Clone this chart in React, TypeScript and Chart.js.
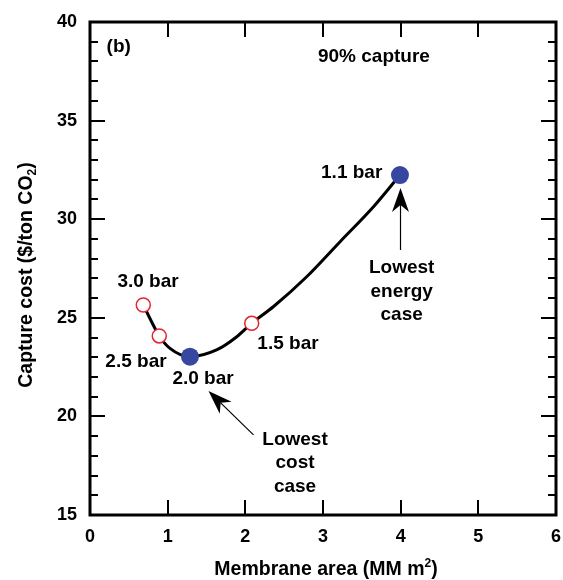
import React, { useEffect, useRef } from "react";
import { Chart, registerables } from "chart.js";

Chart.register(...registerables);

// Curve of capture cost vs membrane area
const curveX = [0.686, 0.892, 1.03, 1.287, 1.63, 1.89, 2.082, 2.36, 2.79, 3.22, 3.65, 3.991];
const curveY = [25.65, 24.08, 23.45, 23.03, 23.37, 24.04, 24.72, 25.56, 27.08, 28.86, 30.63, 32.24];

// Marked pressure cases
const pointLabels = ["3.0 bar", "2.5 bar", "2.0 bar", "1.5 bar", "1.1 bar"];
const pointX = [0.686, 0.892, 1.287, 2.082, 3.991];
const pointY = [25.65, 24.08, 23.03, 24.72, 32.24];
const pointFilled = [false, false, true, false, true];
const labelX = [0.747, 0.592, 1.455, 2.549, 3.369];
const labelY = [26.93, 22.88, 22.01, 23.79, 32.46];

// Axis ranges / ticks
const xMin = 0, xMax = 6, xStep = 1;
const yMin = 15, yMax = 40, yStep = 5, yMinorStep = 1;

// Annotations
const noteTexts = [["Lowest", "energy", "case"], ["Lowest", "cost", "case"]];
const noteX = [4.013, 2.64];
const noteY = [27.26, 18.55];
const arrowTail = [[3.998, 28.44], [2.105, 19.06]];
const arrowTip = [[3.998, 31.58], [1.526, 21.29]];
const panelLabel = "(b)";
const panelX = 0.37, panelY = 38.49;
const captureLabel = "90% capture";
const captureX = 3.656, captureY = 37.99;

const FONT = '"Liberation Sans", Arial, Helvetica, sans-serif';

function drawArrow(ctx: CanvasRenderingContext2D, x1: number, y1: number, x2: number, y2: number) {
  const ang = Math.atan2(y2 - y1, x2 - x1);
  const L = 24, W = 8.5, notch = 7;
  const cos = Math.cos(ang), sin = Math.sin(ang);
  const bx = x2 - cos * (L - notch), by = y2 - sin * (L - notch);
  ctx.save();
  ctx.strokeStyle = "#000";
  ctx.lineWidth = 1.2;
  ctx.beginPath();
  ctx.moveTo(x1, y1);
  ctx.lineTo(bx, by);
  ctx.stroke();
  ctx.fillStyle = "#000";
  ctx.beginPath();
  ctx.moveTo(x2, y2);
  ctx.lineTo(x2 - cos * L - sin * W, y2 - sin * L + cos * W);
  ctx.lineTo(bx, by);
  ctx.lineTo(x2 - cos * L + sin * W, y2 - sin * L - cos * W);
  ctx.closePath();
  ctx.fill();
  ctx.restore();
}

const decorPlugin = {
  id: "decor",
  afterDraw(chart: any) {
    const ctx: CanvasRenderingContext2D = chart.ctx;
    const xs = chart.scales.x;
    const ys = chart.scales.y;
    const { left, right, top, bottom } = chart.chartArea;
    ctx.save();
    // frame
    ctx.strokeStyle = "#000";
    ctx.lineWidth = 3;
    ctx.strokeRect(left, top, right - left, bottom - top);
    // y ticks (left and right, inward)
    ctx.lineWidth = 2;
    for (let v = yMin; v <= yMax + 1e-9; v += yMinorStep) {
      const py = Math.round(ys.getPixelForValue(v));
      const len = Math.abs(v % yStep) < 1e-9 ? 15 : 8;
      ctx.beginPath();
      ctx.moveTo(left, py);
      ctx.lineTo(left + len, py);
      ctx.moveTo(right, py);
      ctx.lineTo(right - len, py);
      ctx.stroke();
    }
    // x ticks (bottom and top, inward)
    for (let v = xMin; v <= xMax + 1e-9; v += xStep) {
      const px = Math.round(xs.getPixelForValue(v));
      ctx.beginPath();
      ctx.moveTo(px, bottom);
      ctx.lineTo(px, bottom - 15);
      ctx.moveTo(px, top);
      ctx.lineTo(px, top + 15);
      ctx.stroke();
    }
    ctx.fillStyle = "#000";
    // point labels
    ctx.font = `bold 19px ${FONT}`;
    ctx.textAlign = "center";
    ctx.textBaseline = "alphabetic";
    for (let i = 0; i < pointLabels.length; i++) {
      ctx.fillText(pointLabels[i], xs.getPixelForValue(labelX[i]), ys.getPixelForValue(labelY[i]) + 7);
    }
    // notes
    for (let i = 0; i < noteTexts.length; i++) {
      const nx = xs.getPixelForValue(noteX[i]);
      const ny = ys.getPixelForValue(noteY[i]);
      noteTexts[i].forEach((t, j) => ctx.fillText(t, nx, ny + j * 23.4));
      const [tx, ty] = arrowTail[i];
      const [hx, hy] = arrowTip[i];
      drawArrow(ctx, xs.getPixelForValue(tx), ys.getPixelForValue(ty), xs.getPixelForValue(hx), ys.getPixelForValue(hy));
    }
    ctx.fillText(panelLabel, xs.getPixelForValue(panelX), ys.getPixelForValue(panelY));
    ctx.fillText(captureLabel, xs.getPixelForValue(captureX), ys.getPixelForValue(captureY));

    // x title with superscript
    const big = `bold 19.5px ${FONT}`;
    const small = `bold 12px ${FONT}`;
    {
      const a = "Membrane area (MM m", s = "2", b = ")";
      ctx.font = big; const wa = ctx.measureText(a).width; const wb = ctx.measureText(b).width;
      ctx.font = small; const ws = ctx.measureText(s).width;
      const total = wa + ws + wb;
      const x0 = 326 - total / 2;
      const by = 575;
      ctx.textAlign = "left";
      ctx.font = big; ctx.fillText(a, x0, by);
      ctx.font = small; ctx.fillText(s, x0 + wa, by - 8);
      ctx.font = big; ctx.fillText(b, x0 + wa + ws, by);
    }
    // y title with subscript
    {
      const a = "Capture cost ($/ton CO", s = "2", b = ")";
      ctx.font = big; const wa = ctx.measureText(a).width; const wb = ctx.measureText(b).width;
      ctx.font = small; const ws = ctx.measureText(s).width;
      const total = wa + ws + wb;
      ctx.translate(32, 275);
      ctx.rotate(-Math.PI / 2);
      const x0 = -total / 2;
      ctx.textAlign = "left";
      ctx.font = big; ctx.fillText(a, x0, 0);
      ctx.font = small; ctx.fillText(s, x0 + wa, 4);
      ctx.font = big; ctx.fillText(b, x0 + wa + ws, 0);
    }
    ctx.restore();
  },
};

export default function App() {
  const ref = useRef<HTMLCanvasElement | null>(null);
  useEffect(() => {
    document.body.style.margin = "0";
    const canvas = ref.current!;
    const chart = new Chart(canvas, {
      type: "line",
      data: {
        datasets: [
          {
            label: "curve",
            data: curveX.map((x, i) => ({ x, y: curveY[i] })),
            borderColor: "#000",
            borderWidth: 3,
            pointRadius: 0,
            cubicInterpolationMode: "monotone",
            fill: false,
            order: 2,
          },
          {
            label: "cases",
            data: pointX.map((x, i) => ({ x, y: pointY[i] })),
            showLine: false,
            pointRadius: pointFilled.map((f) => (f ? 9 : 7)),
            pointBackgroundColor: pointFilled.map((f) => (f ? "#3747a0" : "#ffffff")),
            pointBorderColor: pointFilled.map((f) => (f ? "#3747a0" : "#e3242b")),
            pointBorderWidth: pointFilled.map((f) => (f ? 0 : 1.5)),
            order: 1,
          },
        ],
      },
      options: {
        responsive: false,
        animation: false,
        devicePixelRatio: 1,
        layout: { padding: { top: 22, right: 7, left: 0, bottom: 0 }, autoPadding: false },
        plugins: { legend: { display: false }, tooltip: { enabled: false } },
        scales: {
          x: {
            type: "linear",
            min: xMin,
            max: xMax,
            grid: { display: false, drawTicks: false },
            border: { display: false },
            ticks: {
              stepSize: xStep,
              color: "#000",
              padding: 11,
              font: { family: FONT, size: 18, weight: "bold" },
            },
            afterFit: (s: any) => { s.height = 65; s.paddingLeft = 0; s.paddingRight = 0; },
          },
          y: {
            type: "linear",
            min: yMin,
            max: yMax,
            grid: { display: false, drawTicks: false },
            border: { display: false },
            ticks: {
              stepSize: yStep,
              color: "#000",
              padding: 13,
              font: { family: FONT, size: 18, weight: "bold" },
            },
            afterFit: (s: any) => { s.width = 90; s.paddingTop = 0; s.paddingBottom = 0; },
          },
        },
      },
      plugins: [decorPlugin],
    } as any);
    return () => chart.destroy();
  }, []);
  return (
    <canvas
      ref={ref}
      width={563}
      height={580}
      style={{ display: "block", width: 563, height: 580 }}
    />
  );
}
